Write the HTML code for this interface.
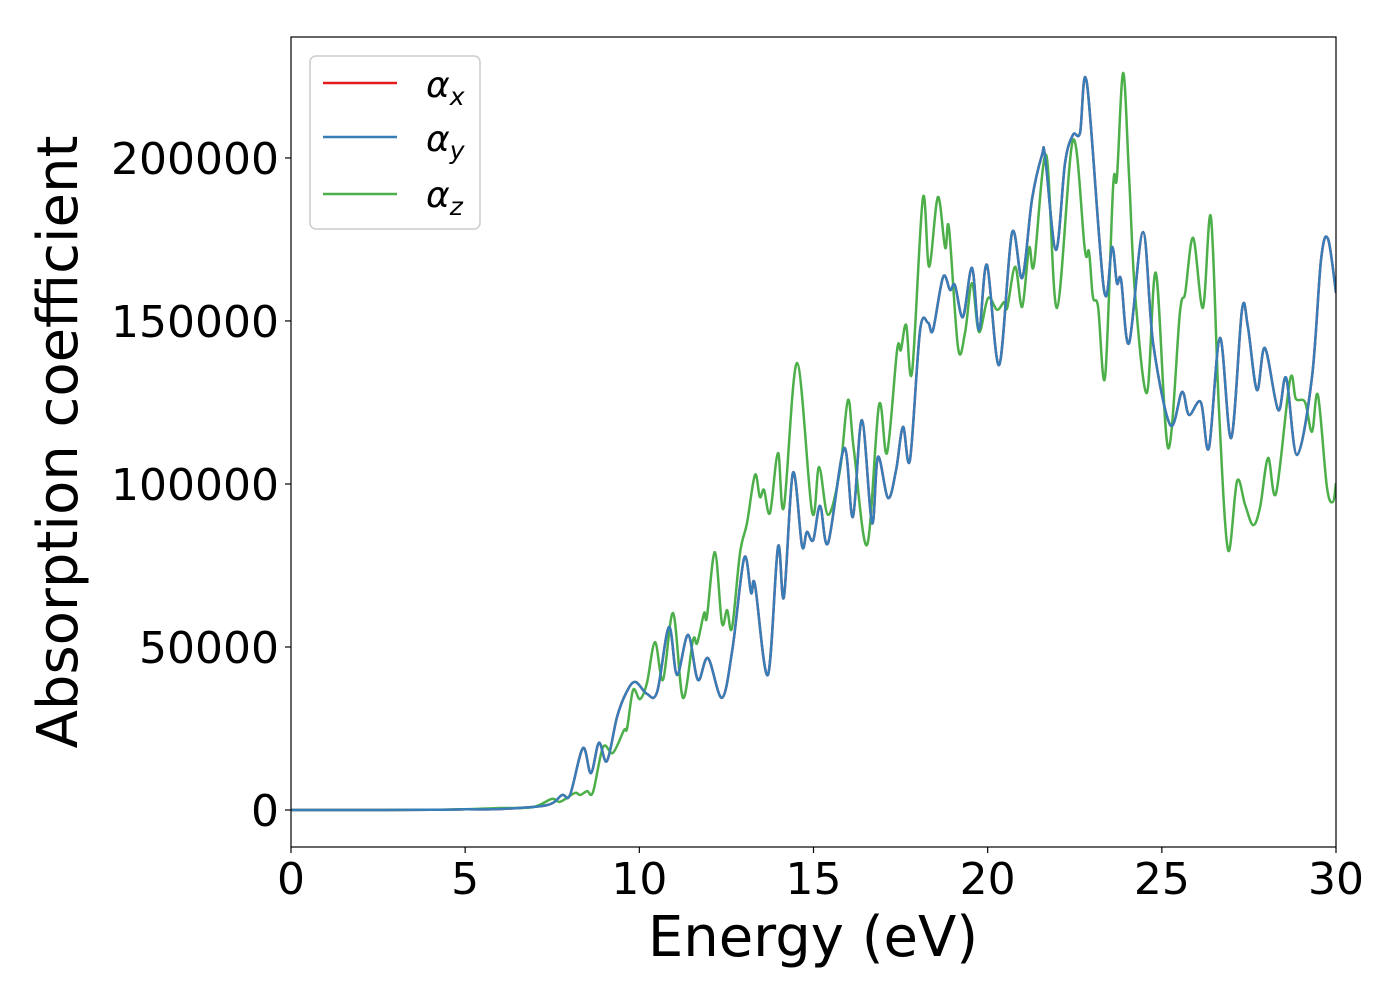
<!DOCTYPE html>
<html><head><meta charset="utf-8"><style>
body{margin:0;background:#fff;}
svg text{font-family:"DejaVu Sans","Liberation Sans",sans-serif;fill:#000;}
</style></head><body>
<svg id="chart" width="1400" height="1000" viewBox="0 0 1400 1000" xmlns="http://www.w3.org/2000/svg">
<rect x="0" y="0" width="1400" height="1000" fill="#fff"/>
<g id="plot"></g>
<g id="axes"></g>
<g id="legend">
<rect x="310" y="56" width="170" height="173" rx="6" fill="#fff" fill-opacity="0.8" stroke="#ccc" stroke-width="1.5"/>
<g><line x1="323" y1="83" x2="397" y2="83" stroke="#e41a1c" stroke-width="2.5"/><text x="426" y="97" font-size="36" font-style="italic">α<tspan font-size="25" dy="8">x</tspan></text></g>
<g><line x1="323" y1="137" x2="397" y2="137" stroke="#377eb8" stroke-width="2.5"/><text x="426" y="151" font-size="36" font-style="italic">α<tspan font-size="25" dy="8">y</tspan></text></g>
<g><line x1="323" y1="194" x2="397" y2="194" stroke="#4daf4a" stroke-width="2.5"/><text x="426" y="207" font-size="36" font-style="italic">α<tspan font-size="25" dy="8">z</tspan></text></g>
</g>
</svg>
<script>
const energyXY = [0,2,4,5,6,7.35,7.78,8.01,8.38,8.61,8.84,9.07,9.36,9.62,9.88,10.22,10.51,10.85,11.08,11.40,11.68,11.97,12.37,12.67,13.01,13.21,13.32,13.69,13.98,14.15,14.41,14.67,14.81,14.99,15.19,15.42,15.88,16.13,16.39,16.68,16.85,17.14,17.37,17.57,17.77,18.06,18.29,18.43,18.72,18.92,19.06,19.29,19.55,19.75,19.98,20.33,20.70,20.99,21.27,21.56,21.65,21.96,22.22,22.45,22.65,22.85,23.34,23.57,23.71,23.83,24.06,24.46,24.75,25.24,25.58,25.78,26.12,26.35,26.67,26.99,27.30,27.47,27.73,27.96,28.34,28.57,28.88,29.31,29.57,29.77,30.00];
const alphaY = [0,0,50,200,300,1500,4600,4600,19000,11300,20600,15000,28500,35900,39300,35600,36200,56100,41400,53700,39900,46600,34400,49100,77300,66600,69000,41400,80700,65300,103400,81000,85300,82800,93300,81900,111000,89900,119600,88000,108300,95700,104300,117500,107400,147200,149400,147200,163500,159500,161000,151200,166300,147200,167200,136500,177000,163200,187100,200900,200300,171800,198400,207100,207700,223000,159500,172700,161600,162600,143200,177300,143200,118100,128200,121200,125100,111000,144800,114100,153400,148200,128800,141700,122700,132500,108900,132800,168700,175200,158600];
const alphaX = alphaY.slice();
const energyZ = [0,2,4,5,6,6.95,7.49,7.72,8.15,8.30,8.50,8.67,8.96,9.24,9.56,9.65,9.82,10.02,10.22,10.45,10.68,10.97,11.25,11.54,11.66,11.86,11.94,12.17,12.37,12.52,12.66,12.89,13.09,13.32,13.46,13.58,13.75,13.98,14.15,14.53,14.96,15.16,15.42,15.76,15.99,16.16,16.54,16.88,17.11,17.40,17.51,17.66,17.83,18.14,18.32,18.57,18.78,18.89,19.15,19.35,19.55,19.75,20.01,20.27,20.47,20.56,20.79,20.99,21.19,21.33,21.68,21.99,22.45,22.79,22.91,23.02,23.17,23.37,23.60,23.71,23.89,24.06,24.23,24.57,24.83,25.18,25.52,25.67,25.90,26.18,26.41,26.64,26.90,27.16,27.39,27.62,27.82,28.05,28.28,28.68,28.85,29.11,29.31,29.48,29.74,29.91,30.00];
const alphaZ = [0,0,50,200,600,900,3400,2500,5200,4600,5800,5500,19300,17500,24500,25100,36800,34000,39000,51500,39900,60400,34400,52100,51200,60400,59200,79100,57400,61300,55800,78800,88000,102800,96000,98200,91100,109500,92900,137100,91400,105200,90500,104300,125800,110400,81300,124200,109500,141100,141100,148800,134400,187700,166600,188000,172400,178500,141700,146300,161600,146600,157000,153400,155800,154000,166600,154300,172400,167200,200900,154000,205500,171800,171200,157400,154300,132800,191100,193900,226100,194200,158600,127900,164700,111000,152500,158600,175500,154000,181900,122700,79800,100900,93600,87400,92900,108000,97200,131900,126100,125100,116000,127300,99100,94500,100300];
const xTicks = [0,5,10,15,20,25,30];
const yTicks = [0,50000,100000,150000,200000];

const X0=291,X1=1336,Y0=37,Y1=847;
const xMin=0,xMax=30,yMin=-11350,yMax=237100;
const sx=v=>X0+(v-xMin)/(xMax-xMin)*(X1-X0);
const sy=v=>Y1-(v-yMin)/(yMax-yMin)*(Y1-Y0);
const NS='http://www.w3.org/2000/svg';
function mk(tag,attrs,parent){const e=document.createElementNS(NS,tag);for(const k in attrs)e.setAttribute(k,attrs[k]);parent.appendChild(e);return e;}
function smoothPath(xs,ys){
  const p=xs.map((x,i)=>[sx(x),sy(ys[i])]);
  let d='M'+p[0][0].toFixed(1)+','+p[0][1].toFixed(1);
  for(let i=0;i<p.length-1;i++){
    const a=p[i-1]||p[i],b=p[i],c=p[i+1],e=p[i+2]||c;
    const t=1/6;
    const c1=[b[0]+(c[0]-a[0])*t,b[1]+(c[1]-a[1])*t];
    const c2=[c[0]-(e[0]-b[0])*t,c[1]-(e[1]-b[1])*t];
    d+=' C'+c1[0].toFixed(1)+','+c1[1].toFixed(1)+' '+c2[0].toFixed(1)+','+c2[1].toFixed(1)+' '+c[0].toFixed(1)+','+c[1].toFixed(1);
  }
  return d;
}
const plot=document.getElementById('plot');
const clip=mk('clipPath',{id:'clp'},mk('defs',{},plot));
mk('rect',{x:X0,y:Y0,width:X1-X0,height:Y1-Y0},clip);
const g=mk('g',{'clip-path':'url(#clp)'},plot);
const series=[['alpha-x-line',energyXY,alphaX,'#e41a1c'],['alpha-z-line',energyZ,alphaZ,'#4daf4a'],['alpha-y-line',energyXY,alphaY,'#377eb8']];
series.forEach(s=>{
  const el=mk('path',{d:smoothPath(s[1],s[2]),fill:'none',stroke:s[3],'stroke-width':2.5,'stroke-linejoin':'round'},g);
  
  
});
const ax=document.getElementById('axes');
const frame=mk('rect',{x:X0,y:Y0,width:X1-X0,height:Y1-Y0,fill:'none',stroke:'#000','stroke-width':1.2},ax);


xTicks.forEach(t=>{
  const x=sx(t);
  mk('line',{x1:x,y1:Y1,x2:x,y2:Y1+6,stroke:'#000','stroke-width':1.2},ax);
  const tx=mk('text',{x:x,y:894,'font-size':44,'text-anchor':'middle'},ax);
  tx.textContent=t;
  
  
});
yTicks.forEach(t=>{
  const y=sy(t);
  mk('line',{x1:X0-6,y1:y,x2:X0,y2:y,stroke:'#000','stroke-width':1.2},ax);
  const tx=mk('text',{x:279,y:y+16,'font-size':44,'text-anchor':'end'},ax);
  tx.textContent=t;
  
  
});
const xl=mk('text',{x:813,y:956,'font-size':56,'text-anchor':'middle'},ax);
xl.textContent='Energy (eV)';


const yl=mk('text',{x:0,y:0,'font-size':56,'text-anchor':'middle',transform:'translate(77,442) rotate(-90)'},ax);
yl.textContent='Absorption coefficient';


</script>
</body></html>
